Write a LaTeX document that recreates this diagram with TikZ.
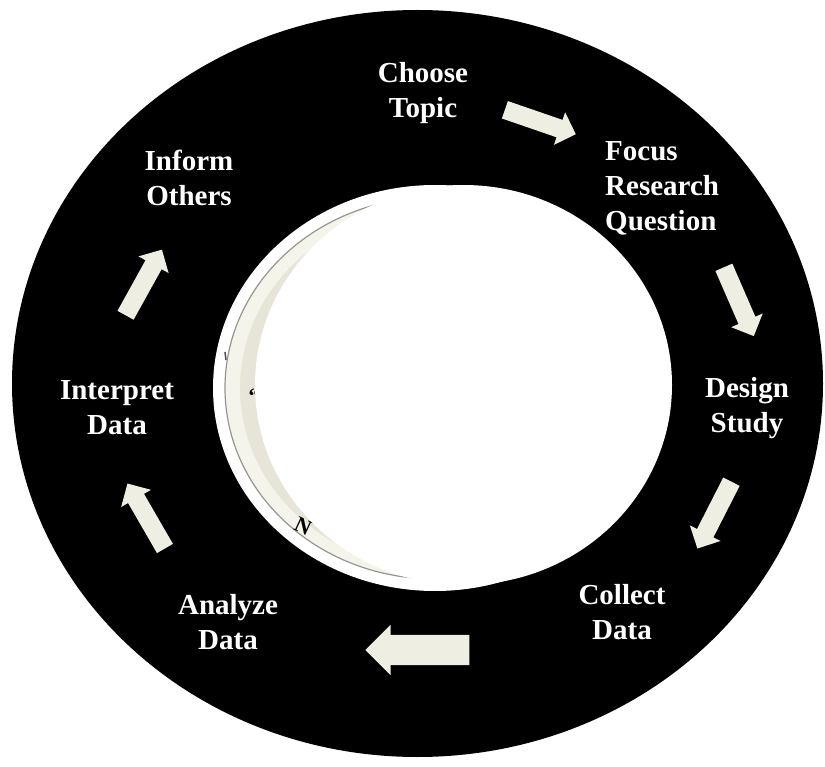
\documentclass[tikz,border=0pt]{standalone}
\usepackage{fontspec}
\setmainfont{Liberation Serif}
\usetikzlibrary{shapes.arrows}
\definecolor{arrowfill}{RGB}{238,238,226}
\definecolor{creamfill}{RGB}{244,244,234}
\definecolor{beigefill}{RGB}{230,229,216}
\definecolor{ringgrey}{RGB}{150,150,145}
\begin{document}
\begin{tikzpicture}[x=1pt,y=-1pt,
  lbl/.style={text=white,font=\bfseries\fontsize{29}{35}\selectfont,align=center,inner sep=0pt},
  barrow/.style={single arrow,fill=arrowfill,draw=none,inner sep=0pt,
    single arrow head extend=8pt,single arrow head indent=0pt,
    minimum height=75pt},
  frag/.style={text=black,inner sep=0pt,font=\bfseries\fontsize{22}{24}\selectfont}]
\useasboundingbox (0,0) rectangle (825,767);
\fill[white] (0,0) rectangle (825,767);
% outer black ring
\fill[black] (417.5,383.5) ellipse [x radius=405.5, y radius=373.5];
% old inner disc (beige crescent)
\fill[white] (435,388) ellipse [x radius=222, y radius=203];
\filldraw[fill=creamfill, draw=ringgrey, line width=1.2pt] (435,388) ellipse [x radius=210, y radius=191];
\fill[beigefill] (440,388) ellipse [x radius=200, y radius=182];
\draw[black!70, line width=1.5pt] (225,352) -- (226,360);
% text fragments partly hidden
\node[frag] (frag1) at (254,396) {“};
\node[frag, rotate=-25] (frag2) at (303,526) {N};
% white disc on top
\fill[white] (463.5,385) ellipse [x radius=208.5, y radius=200];
% labels
\node[lbl] (choose) at (423,93) {Choose\\Topic};
\node[lbl, align=left, anchor=west] (focus) at (605,188) {Focus\\Research\\Question};
\node[lbl] (design) at (747,408) {Design\\Study};
\node[lbl] (collect) at (622,612) {Collect\\Data};
\node[lbl] (analyze) at (228,622) {Analyze\\Data};
\node[lbl] (interpret) at (117,408) {Interpret\\Data};
\node[lbl] (inform) at (189,178) {Inform\\Others};
% block arrows
\node[barrow, rotate=-19] (a1) at (536,120.5) {\rule[-9pt]{0pt}{18pt}};
\node[barrow, rotate=-66.5] (a2) at (737,297.5) {\rule[-9pt]{0pt}{18pt}};
\node[barrow, rotate=-117] (a3) at (716.5,511) {\rule[-9pt]{0pt}{18pt}};
\node[barrow, rotate=180, single arrow head extend=10pt, minimum height=104pt] (a4) at (425,650) {\rule[-15pt]{0pt}{30pt}};
\node[barrow, rotate=120] (a5) at (148.5,520) {\rule[-9pt]{0pt}{18pt}};
\node[barrow, rotate=61] (a6) at (141.5,286.5) {\rule[-9pt]{0pt}{18pt}};
\end{tikzpicture}
\end{document}
